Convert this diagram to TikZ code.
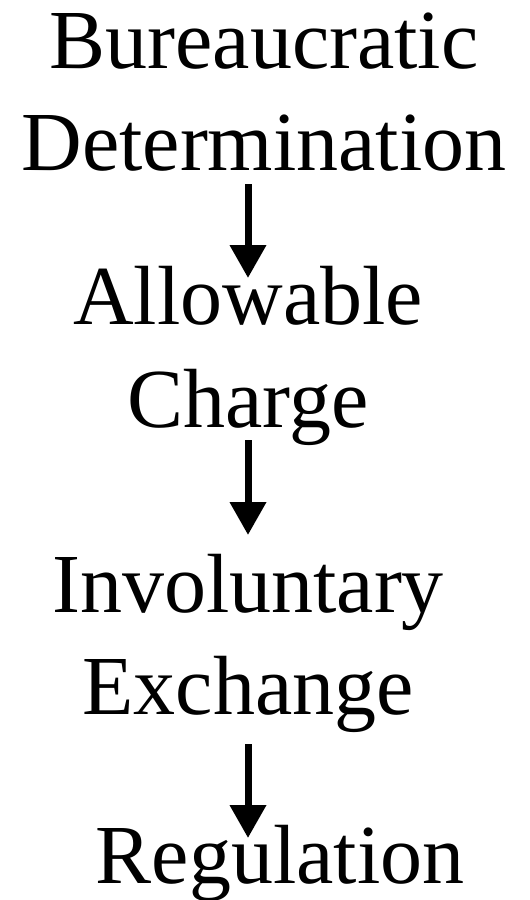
\documentclass[tikz,border=0pt]{standalone}
\usepackage{fontspec}
\setmainfont{Liberation Serif}
\usetikzlibrary{arrows.meta}
\begin{document}
\begin{tikzpicture}[x=1pt,y=-1pt,
  lbl/.style={anchor=base,inner sep=0pt,font=\fontsize{84}{96}\selectfont},
  arr/.style={line width=7pt,-{Triangle[width=35pt,length=33pt]}}]
\useasboundingbox (0,0) rectangle (530,900);
\coordinate (ax) at (248,0);
\node[lbl] (bur) at (264,68) {Bureaucratic};
\node[lbl] (det) at (264,170) {Determination};
\node[lbl] (all) at (248,324) {Allowable};
\node[lbl] (cha) at (248,427) {Charge};
\node[lbl] (inv) at (248,612) {Involuntary};
\node[lbl] (exc) at (248,714) {Exchange};
\node[lbl] (reg) at (280,883) {Regulation};
\draw[arr] ([yshift=-14pt]det.base -| ax) -- ([yshift=46pt]all.base -| ax);
\draw[arr] ([yshift=-13pt]cha.base -| ax) -- ([yshift=77pt]inv.base -| ax);
\draw[arr] ([yshift=-30pt]exc.base -| ax) -- ([yshift=45pt]reg.base -| ax);
\end{tikzpicture}
\end{document}
